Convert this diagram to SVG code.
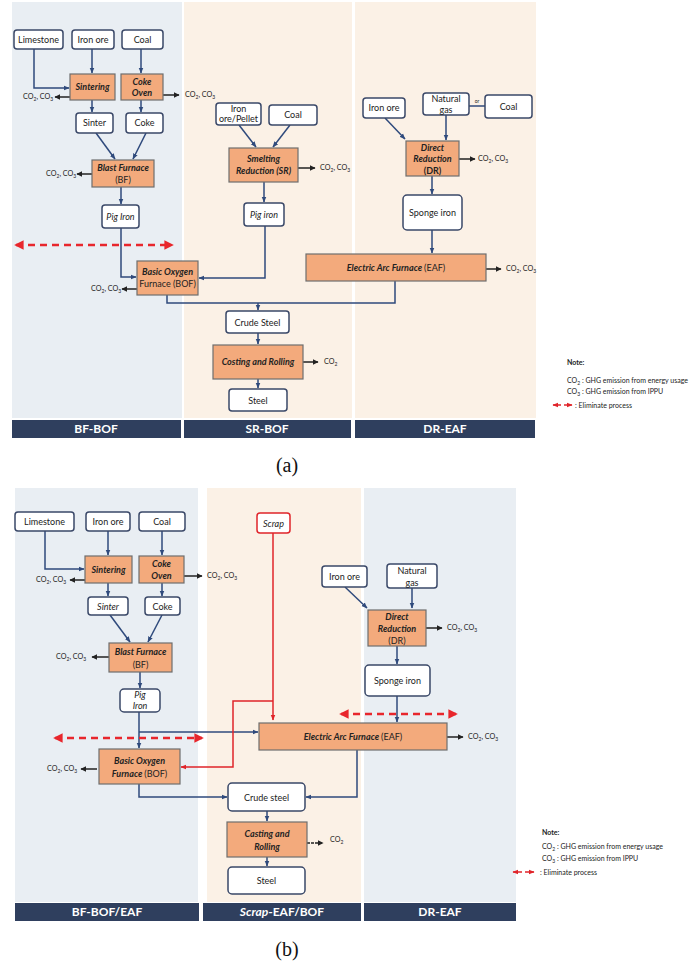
<svg xmlns="http://www.w3.org/2000/svg" width="696" height="968" viewBox="0 0 696 968">
<defs>
<style>
text{font-family:Lato,"Open Sans","Liberation Sans",sans-serif;fill:#222;}
.bgb{fill:#e9eef3;}
.bgp{fill:#fbf1e6;}
.hdr{fill:#2f3f5e;}
.ht{fill:#fff;font-weight:bold;font-size:12px;text-anchor:middle;}
.n{fill:#fff;stroke:#3a4868;stroke-width:1.5;}
.p{fill:#f3aa7c;stroke:#6e6e6e;stroke-width:1.2;}
.t{font-size:9px;text-anchor:middle;}
.pt{font-size:9px;text-anchor:middle;font-weight:bold;font-style:italic;}
.em{font-size:7.2px;}
.sub{font-size:5px;}
.c{fill:none;stroke:#2f4a7c;stroke-width:1.5;}
.ce{fill:none;stroke:#222;stroke-width:1.5;}
.cr{fill:none;stroke:#e0242a;stroke-width:1.5;}
.dash{fill:none;stroke:#e8262c;stroke-width:2.5;stroke-dasharray:7,5;}
.nt{font-size:7px;}
.cap{font-family:"Liberation Serif","DejaVu Serif",serif;font-size:20px;text-anchor:middle;fill:#111;}
</style>
<marker id="ab" viewBox="0 0 10 10" refX="9" refY="5" markerWidth="4" markerHeight="4" orient="auto"><path d="M0,1 L10,5 L0,9 z" fill="#2f4a7c"/></marker>
<marker id="ak" viewBox="0 0 10 10" refX="9" refY="5" markerWidth="4" markerHeight="4" orient="auto"><path d="M0,0 L10,5 L0,10 z" fill="#222"/></marker>
<marker id="ar" viewBox="0 0 10 10" refX="9" refY="5" markerWidth="4" markerHeight="4" orient="auto"><path d="M0,1 L10,5 L0,9 z" fill="#e0242a"/></marker>
<marker id="ard" viewBox="0 0 10 10" refX="8" refY="5" markerWidth="3.8" markerHeight="3.8" orient="auto-start-reverse"><path d="M0,0 L10,5 L0,10 z" fill="#e8262c"/></marker>
</defs>
<rect width="696" height="968" fill="#fff"/>

<!-- ===== Panel (a) backgrounds ===== -->
<g id="a-columns">
<rect class="bgb" x="12" y="2" width="170" height="416"/>
<rect class="bgp" x="184" y="2" width="168" height="416"/>
<rect class="bgp" x="355" y="2" width="181" height="416"/>
<rect class="hdr" x="12" y="420" width="169" height="18"/>
<rect class="hdr" x="184" y="420" width="167" height="18"/>
<rect class="hdr" x="355" y="420" width="180" height="18"/>
<text class="ht" x="96" y="433">BF-BOF</text>
<text class="ht" x="267" y="433">SR-BOF</text>
<text class="ht" x="445" y="433">DR-EAF</text>
</g>

<!-- ===== Panel (a) connectors ===== -->
<g id="a-connectors">
<path class="c" d="M34,48 V88 H69" marker-end="url(#ab)"/>
<path class="c" d="M92,48 V73" marker-end="url(#ab)"/>
<path class="c" d="M141,48 V73" marker-end="url(#ab)"/>
<path class="c" d="M92,100 V112" marker-end="url(#ab)"/>
<path class="c" d="M141,100 V112" marker-end="url(#ab)"/>
<path class="c" d="M96,133 L115,159" marker-end="url(#ab)"/>
<path class="c" d="M146,133 L133,159" marker-end="url(#ab)"/>
<path class="c" d="M121,187 V204" marker-end="url(#ab)"/>
<path class="c" d="M121,228 V277 H136" marker-end="url(#ab)"/>
<path class="c" d="M239,125 L256,147" marker-end="url(#ab)"/>
<path class="c" d="M290,125 L273,147" marker-end="url(#ab)"/>
<path class="c" d="M264,182 V202" marker-end="url(#ab)"/>
<path class="c" d="M265,226 V278 H199" marker-end="url(#ab)"/>
<path class="c" d="M385,118 L405,139" marker-end="url(#ab)"/>
<path class="c" d="M446,115 V140" marker-end="url(#ab)"/>
<path class="c" d="M469,106 H485"/>
<path class="c" d="M432,176 V194" marker-end="url(#ab)"/>
<path class="c" d="M432,230 V253" marker-end="url(#ab)"/>
<path class="c" d="M167,295 V303 H395 V281"/>
<path class="c" d="M258,303 V310" marker-end="url(#ab)"/>
<path class="c" d="M258,333 V344" marker-end="url(#ab)"/>
<path class="c" d="M258,379 V388" marker-end="url(#ab)"/>
<path class="ce" d="M70,97 H55" marker-end="url(#ak)"/>
<path class="ce" d="M163,95 H179" marker-end="url(#ak)"/>
<path class="ce" d="M92,174 H77" marker-end="url(#ak)"/>
<path class="ce" d="M137,289 H122" marker-end="url(#ak)"/>
<path class="ce" d="M298,168 H315" marker-end="url(#ak)"/>
<path class="ce" d="M459,159 H475" marker-end="url(#ak)"/>
<path class="ce" d="M486,269 H501" marker-end="url(#ak)"/>
<path class="ce" d="M303,362 H318" marker-end="url(#ak)"/>
<path class="dash" d="M16,245 H172" marker-start="url(#ard)" marker-end="url(#ard)"/>
</g>

<!-- ===== Panel (a) nodes ===== -->
<g id="a-limestone"><rect class="n" x="14" y="30" width="49" height="19" rx="3"/><text class="t" x="38.5" y="43">Limestone</text></g>
<g id="a-ironore"><rect class="n" x="72" y="30" width="42" height="19" rx="3"/><text class="t" x="93" y="43">Iron ore</text></g>
<g id="a-coal"><rect class="n" x="122" y="30" width="41" height="19" rx="3"/><text class="t" x="142.5" y="43">Coal</text></g>
<g id="a-sintering"><rect class="p" x="70" y="74" width="45" height="26"/><text class="pt" x="92.5" y="90">Sintering</text></g>
<g id="a-cokeoven"><rect class="p" x="121" y="74" width="42" height="26"/><text class="pt" x="142" y="85">Coke</text><text class="pt" x="142" y="96">Oven</text></g>
<g id="a-sinter"><rect class="n" x="76" y="113" width="37" height="20" rx="3"/><text class="t" x="94.5" y="126">Sinter</text></g>
<g id="a-coke"><rect class="n" x="126" y="113" width="37" height="20" rx="3"/><text class="t" x="144.5" y="126">Coke</text></g>
<g id="a-bf"><rect class="p" x="92" y="160" width="62" height="27"/><text class="pt" x="123" y="171">Blast Furnace</text><text class="t" x="123" y="183">(BF)</text></g>
<g id="a-pigiron1"><rect class="n" x="102" y="205" width="37" height="23" rx="3"/><text class="t" x="120.5" y="219.5" font-style="italic">Pig Iron</text></g>
<g id="a-bof"><rect class="p" x="137" y="261" width="61" height="34"/><text class="pt" x="167.5" y="275" font-weight="normal">Basic Oxygen</text><text class="t" x="167.5" y="287">Furnace (BOF)</text></g>
<g id="a-orepellet"><rect class="n" x="216" y="103" width="45" height="22" rx="3"/><text class="t" x="238.5" y="112" font-size="8">Iron</text><text class="t" x="238.5" y="122" font-size="8">ore/Pellet</text></g>
<g id="a-coal2"><rect class="n" x="269" y="105" width="48" height="20" rx="3"/><text class="t" x="293" y="118">Coal</text></g>
<g id="a-sr"><rect class="p" x="229" y="148" width="69" height="34"/><text class="pt" x="263.5" y="162">Smelting</text><text class="pt" x="263.5" y="174">Reduction (SR)</text></g>
<g id="a-pigiron2"><rect class="n" x="244" y="203" width="40" height="23" rx="3"/><text class="t" x="264" y="217.5" font-style="italic">Pig iron</text></g>
<g id="a-ironore3"><rect class="n" x="363" y="98" width="42" height="20" rx="3"/><text class="t" x="384" y="111">Iron ore</text></g>
<g id="a-natgas"><rect class="n" x="423" y="93" width="46" height="22" rx="3"/><text class="t" x="446" y="102">Natural</text><text class="t" x="446" y="113">gas</text></g>
<text x="477" y="103" font-size="5" text-anchor="middle">or</text>
<g id="a-coal3"><rect class="n" x="485" y="95" width="47" height="23" rx="3"/><text class="t" x="508.5" y="110">Coal</text></g>
<g id="a-dr"><rect class="p" x="406" y="141" width="53" height="35"/><text class="pt" x="432.5" y="151">Direct</text><text class="pt" x="432.5" y="162">Reduction</text><text class="t" x="432.5" y="174" font-weight="bold">(DR)</text></g>
<g id="a-sponge"><rect class="n" x="403" y="195" width="59" height="35" rx="4"/><text class="t" x="432.5" y="215.5">Sponge iron</text></g>
<g id="a-eaf"><rect class="p" x="306" y="254" width="180" height="27"/><text class="t" x="396" y="271"><tspan font-weight="bold" font-style="italic">Electric Arc Furnace </tspan>(EAF)</text></g>
<g id="a-crude"><rect class="n" x="226" y="311" width="63" height="22" rx="3"/><text class="t" x="257.5" y="325.5">Crude Steel</text></g>
<g id="a-casting"><rect class="p" x="213" y="345" width="90" height="34"/><text class="pt" x="258" y="365">Costing and Rolling</text></g>
<g id="a-steel"><rect class="n" x="229" y="389" width="58" height="22" rx="3"/><text class="t" x="258" y="403.5">Steel</text></g>

<g id="a-emissions">
<text class="em" x="23" y="99">CO<tspan class="sub" dy="1.5">2</tspan><tspan dy="-1.5">, CO</tspan><tspan class="sub" dy="1.5">3</tspan></text>
<text class="em" x="185" y="97">CO<tspan class="sub" dy="1.5">2</tspan><tspan dy="-1.5">, CO</tspan><tspan class="sub" dy="1.5">3</tspan></text>
<text class="em" x="46" y="176">CO<tspan class="sub" dy="1.5">2</tspan><tspan dy="-1.5">, CO</tspan><tspan class="sub" dy="1.5">3</tspan></text>
<text class="em" x="91" y="291">CO<tspan class="sub" dy="1.5">2</tspan><tspan dy="-1.5">, CO</tspan><tspan class="sub" dy="1.5">3</tspan></text>
<text class="em" x="320" y="170">CO<tspan class="sub" dy="1.5">2</tspan><tspan dy="-1.5">, CO</tspan><tspan class="sub" dy="1.5">3</tspan></text>
<text class="em" x="478" y="161">CO<tspan class="sub" dy="1.5">2</tspan><tspan dy="-1.5">, CO</tspan><tspan class="sub" dy="1.5">3</tspan></text>
<text class="em" x="506" y="271">CO<tspan class="sub" dy="1.5">2</tspan><tspan dy="-1.5">, CO</tspan><tspan class="sub" dy="1.5">3</tspan></text>
<text class="em" x="324" y="364">CO<tspan class="sub" dy="1.5">2</tspan></text>
</g>

<g id="a-note">
<text class="nt" x="567" y="365" font-weight="bold">Note:</text>
<text class="nt" x="567" y="383">CO<tspan class="sub" dy="1.5">2</tspan><tspan dy="-1.5"> : GHG emission from energy usage</tspan></text>
<text class="nt" x="567" y="394">CO<tspan class="sub" dy="1.5">3</tspan><tspan dy="-1.5"> : GHG emission from IPPU</tspan></text>
<path class="cr" d="M561,405 H553" stroke-width="2" marker-end="url(#ar)"/>
<path class="cr" d="M564,405 H572" stroke-width="2" marker-end="url(#ar)"/>
<text class="nt" x="575" y="407.5">: Eliminate process</text>
</g>
<text class="cap" x="287" y="472">(a)</text>

<!-- ===== Panel (b) backgrounds ===== -->
<g id="b-columns">
<rect class="bgb" x="15" y="488" width="183" height="414"/>
<rect class="bgp" x="207" y="488" width="154" height="414"/>
<rect class="bgb" x="364" y="488" width="152" height="414"/>
<rect class="hdr" x="15" y="903" width="184" height="18"/>
<rect class="hdr" x="203" y="903" width="158" height="18"/>
<rect class="hdr" x="364" y="903" width="152" height="18"/>
<text class="ht" x="107" y="916">BF-BOF/EAF</text>
<text class="ht" x="282" y="916"><tspan font-style="italic">Scrap</tspan>-EAF/BOF</text>
<text class="ht" x="440" y="916">DR-EAF</text>
</g>

<!-- ===== Panel (b) connectors ===== -->
<g id="b-connectors">
<path class="c" d="M45,531 V569 H84" marker-end="url(#ab)"/>
<path class="c" d="M108,531 V555" marker-end="url(#ab)"/>
<path class="c" d="M162,531 V555" marker-end="url(#ab)"/>
<path class="c" d="M108,583 V596" marker-end="url(#ab)"/>
<path class="c" d="M162,583 V596" marker-end="url(#ab)"/>
<path class="c" d="M110,615 L130,642" marker-end="url(#ab)"/>
<path class="c" d="M162,615 L148,642" marker-end="url(#ab)"/>
<path class="c" d="M140,672 V688" marker-end="url(#ab)"/>
<path class="c" d="M139,712 V748" marker-end="url(#ab)"/>
<path class="c" d="M139,732 H258" marker-end="url(#ab)"/>
<path class="c" d="M139,784 V797 H227" marker-end="url(#ab)"/>
<path class="c" d="M357,750 V797 H306" marker-end="url(#ab)"/>
<path class="c" d="M267,811 V821" marker-end="url(#ab)"/>
<path class="c" d="M267,857 V866" marker-end="url(#ab)"/>
<path class="c" d="M345,587 L367,608" marker-end="url(#ab)"/>
<path class="c" d="M412,588 V608" marker-end="url(#ab)"/>
<path class="c" d="M397,646 V664" marker-end="url(#ab)"/>
<path class="c" d="M397,696 V722" marker-end="url(#ab)"/>
<path class="cr" d="M273,533 V720" marker-end="url(#ar)"/>
<path class="cr" d="M273,701 H233 V767 H181" marker-end="url(#ar)"/>
<path class="ce" d="M85,580 H70" marker-end="url(#ak)"/>
<path class="ce" d="M184,576 H202" marker-end="url(#ak)"/>
<path class="ce" d="M109,657 H92" marker-end="url(#ak)"/>
<path class="ce" d="M97,769 H81" marker-end="url(#ak)"/>
<path class="ce" d="M426,628 H442" marker-end="url(#ak)"/>
<path class="ce" d="M447,737 H463" marker-end="url(#ak)"/>
<path class="ce" d="M307,843 H323" stroke-dasharray="3,1" marker-end="url(#ak)"/>
<path class="dash" d="M55,738 H202" marker-start="url(#ard)" marker-end="url(#ard)"/>
<path class="dash" d="M341,714 H456" marker-start="url(#ard)" marker-end="url(#ard)"/>
</g>

<!-- ===== Panel (b) nodes ===== -->
<g id="b-limestone"><rect class="n" x="15" y="512" width="59" height="19" rx="3"/><text class="t" x="44.5" y="525" font-size="10">Limestone</text></g>
<g id="b-ironore"><rect class="n" x="86" y="512" width="44" height="19" rx="3"/><text class="t" x="108" y="525" font-size="10">Iron ore</text></g>
<g id="b-coal"><rect class="n" x="139" y="512" width="46" height="19" rx="3"/><text class="t" x="162" y="525" font-size="10">Coal</text></g>
<g id="b-sintering"><rect class="p" x="85" y="556" width="47" height="27"/><text class="pt" x="108.5" y="573" font-size="10">Sintering</text></g>
<g id="b-cokeoven"><rect class="p" x="139" y="556" width="45" height="27"/><text class="pt" x="161.5" y="567" font-size="10">Coke</text><text class="pt" x="161.5" y="579" font-size="10">Oven</text></g>
<g id="b-sinter"><rect class="n" x="88" y="597" width="40" height="18" rx="3"/><text class="t" x="108" y="609.5" font-size="10" font-style="italic">Sinter</text></g>
<g id="b-coke"><rect class="n" x="145" y="597" width="35" height="18" rx="3"/><text class="t" x="162.5" y="609.5" font-size="10">Coke</text></g>
<g id="b-bf"><rect class="p" x="109" y="643" width="63" height="29"/><text class="pt" x="140.5" y="655" font-size="10">Blast Furnace</text><text class="t" x="140.5" y="668" font-size="10">(BF)</text></g>
<g id="b-pigiron"><rect class="n" x="120" y="689" width="40" height="23" rx="4"/><text class="t" x="140" y="698" font-style="italic">Pig</text><text class="t" x="140" y="709" font-style="italic">Iron</text></g>
<g id="b-bof"><rect class="p" x="99" y="749" width="81" height="35"/><text class="pt" x="139.5" y="764" font-size="10">Basic Oxygen</text><text class="t" x="139.5" y="777" font-size="10"><tspan font-weight="bold" font-style="italic">Furnace </tspan>(BOF)</text></g>
<g id="b-scrap"><rect x="257" y="513" width="33" height="20" rx="3" fill="#fff" stroke="#e0242a" stroke-width="1.5"/><text class="t" x="273.5" y="526.5" font-style="italic">Scrap</text></g>
<g id="b-eaf"><rect class="p" x="259" y="723" width="188" height="27"/><text class="t" x="353" y="740" font-size="10"><tspan font-weight="bold" font-style="italic">Electric Arc Furnace </tspan>(EAF)</text></g>
<g id="b-crude"><rect class="n" x="228" y="783" width="77" height="28" rx="4"/><text class="t" x="266.5" y="800.5" font-size="10">Crude steel</text></g>
<g id="b-casting"><rect class="p" x="227" y="822" width="80" height="35"/><text class="pt" x="267" y="837" font-size="10">Casting and</text><text class="pt" x="267" y="850" font-size="10">Rolling</text></g>
<g id="b-steel"><rect class="n" x="228" y="867" width="77" height="27" rx="4"/><text class="t" x="266.5" y="884">Steel</text></g>
<g id="b-ironore2"><rect class="n" x="322" y="566" width="45" height="21" rx="3"/><text class="t" x="344.5" y="580" font-size="10">Iron ore</text></g>
<g id="b-natgas"><rect class="n" x="387" y="564" width="50" height="24" rx="3"/><text class="t" x="412" y="574" font-size="10">Natural</text><text class="t" x="412" y="586" font-size="10">gas</text></g>
<g id="b-dr"><rect class="p" x="368" y="610" width="58" height="36"/><text class="pt" x="397" y="620" font-size="10">Direct</text><text class="pt" x="397" y="632" font-size="10">Reduction</text><text class="t" x="397" y="644" font-size="10">(DR)</text></g>
<g id="b-sponge"><rect class="n" x="365" y="665" width="65" height="31" rx="4"/><text class="t" x="397.5" y="684" font-size="10">Sponge iron</text></g>

<g id="b-emissions">
<text class="em" x="36" y="582">CO<tspan class="sub" dy="1.5">2</tspan><tspan dy="-1.5">, CO</tspan><tspan class="sub" dy="1.5">3</tspan></text>
<text class="em" x="207" y="578">CO<tspan class="sub" dy="1.5">2</tspan><tspan dy="-1.5">, CO</tspan><tspan class="sub" dy="1.5">3</tspan></text>
<text class="em" x="56" y="659">CO<tspan class="sub" dy="1.5">2</tspan><tspan dy="-1.5">, CO</tspan><tspan class="sub" dy="1.5">3</tspan></text>
<text class="em" x="47" y="771">CO<tspan class="sub" dy="1.5">2</tspan><tspan dy="-1.5">, CO</tspan><tspan class="sub" dy="1.5">3</tspan></text>
<text class="em" x="447" y="630">CO<tspan class="sub" dy="1.5">2</tspan><tspan dy="-1.5">, CO</tspan><tspan class="sub" dy="1.5">3</tspan></text>
<text class="em" x="468" y="739">CO<tspan class="sub" dy="1.5">2</tspan><tspan dy="-1.5">, CO</tspan><tspan class="sub" dy="1.5">3</tspan></text>
<text class="em" x="330" y="842">CO<tspan class="sub" dy="1.5">2</tspan></text>
</g>

<g id="b-note">
<text class="nt" x="542" y="835" font-weight="bold">Note:</text>
<text class="nt" x="542" y="849">CO<tspan class="sub" dy="1.5">2</tspan><tspan dy="-1.5"> : GHG emission from energy usage</tspan></text>
<text class="nt" x="542" y="861">CO<tspan class="sub" dy="1.5">3</tspan><tspan dy="-1.5"> : GHG emission from IPPU</tspan></text>
<path class="cr" d="M522,872 H513" stroke-width="2" marker-end="url(#ar)"/>
<path class="cr" d="M525,872 H534" stroke-width="2" marker-end="url(#ar)"/>
<text class="nt" x="540" y="874.5">: Eliminate process</text>
</g>
<text class="cap" x="287" y="956">(b)</text>
</svg>
